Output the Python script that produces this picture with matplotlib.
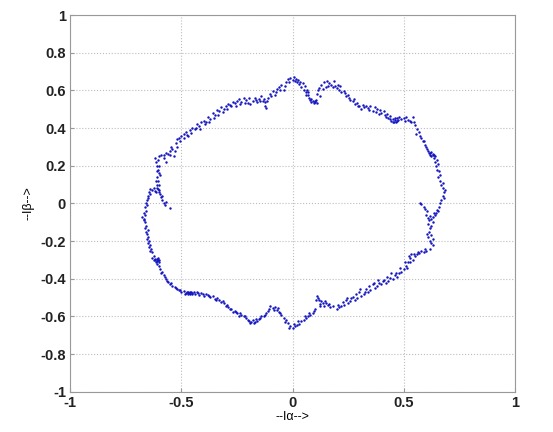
import matplotlib
matplotlib.use('Agg')
import matplotlib.pyplot as plt

# current vector trajectory (I_alpha, I_beta), going round anticlockwise from the top-left
i_alpha = [
    # top, left of peak
    -0.25, -0.24, -0.23, -0.22, -0.21, -0.20, -0.195, -0.18, -0.17, -0.16, -0.15, -0.14, -0.135, -0.125, -0.12,
    -0.11, -0.10, -0.09, -0.08, -0.07, -0.06, -0.05, -0.04, -0.03, -0.02, -0.01, 0.0, 0.005, 0.015, 0.02, 0.025,
    # top right dip and bump
    0.03, 0.04, 0.045, 0.05, 0.055, 0.06, 0.065, 0.07, 0.075, 0.08, 0.085, 0.09, 0.095, 0.10, 0.105, 0.11,
    0.115, 0.12, 0.125, 0.13, 0.14, 0.15, 0.155, 0.165, 0.175, 0.185, 0.19, 0.20, 0.21, 0.215,
    # upper right
    0.22, 0.23, 0.24, 0.25, 0.26, 0.27, 0.28, 0.29, 0.30, 0.31, 0.32, 0.33, 0.34, 0.35, 0.36, 0.37, 0.38, 0.39,
    0.40, 0.41, 0.42, 0.425, 0.43, 0.44, 0.445, 0.45, 0.455, 0.46, 0.465, 0.47, 0.48, 0.49, 0.50, 0.51, 0.52,
    0.53, 0.54, 0.545, 0.55,
    # right side with hook
    0.56, 0.57, 0.575, 0.58, 0.59, 0.595, 0.60, 0.61, 0.615, 0.62, 0.625, 0.63, 0.625, 0.635, 0.64, 0.645, 0.65,
    0.66, 0.655, 0.665, 0.67, 0.675, 0.68, 0.675, 0.67, 0.665, 0.66, 0.65, 0.645, 0.64, 0.63, 0.62, 0.61, 0.60,
    0.605, 0.59, 0.58, 0.575, 0.595, 0.615, 0.61, 0.62, 0.615, 0.625, 0.63, 0.62, 0.63, 0.62, 0.60, 0.59, 0.57,
    0.56, 0.55, 0.54, 0.53, 0.525, 0.52,
    # lower right
    0.51, 0.50, 0.49, 0.48, 0.47, 0.46, 0.45, 0.44, 0.43, 0.42, 0.41, 0.40, 0.39, 0.38, 0.37, 0.36, 0.35, 0.34,
    0.33, 0.32, 0.31, 0.30, 0.29, 0.28, 0.27, 0.26, 0.25, 0.24, 0.23, 0.22, 0.21, 0.20,
    # bottom bump and dip
    0.18, 0.17, 0.16, 0.15, 0.14, 0.13, 0.125, 0.12, 0.115, 0.11, 0.10, 0.09, 0.08, 0.07, 0.06, 0.05, 0.04,
    0.03, 0.02, 0.01, 0.0, -0.01, -0.02, -0.03, -0.04, -0.05, -0.06, -0.07, -0.08, -0.09, -0.10,
    # lower left
    -0.11, -0.12, -0.13, -0.14, -0.15, -0.16, -0.17, -0.18, -0.19, -0.20, -0.21, -0.22, -0.23, -0.24, -0.25,
    -0.26, -0.27, -0.28, -0.29, -0.30, -0.31, -0.32, -0.33, -0.34, -0.35, -0.36, -0.37, -0.38, -0.39, -0.40,
    -0.41, -0.42, -0.43, -0.44, -0.45, -0.455, -0.46, -0.47, -0.48, -0.49, -0.50, -0.51, -0.52, -0.53, -0.54,
    -0.55, -0.56,
    # left side with hook
    -0.57, -0.58, -0.59, -0.595, -0.60, -0.61, -0.62, -0.61, -0.60, -0.615, -0.625, -0.63, -0.635, -0.64, -0.645,
    -0.65, -0.655, -0.65, -0.66, -0.665, -0.67, -0.665, -0.66, -0.665, -0.66, -0.655, -0.65, -0.645, -0.64,
    -0.63, -0.62, -0.61, -0.60, -0.595, -0.59, -0.585, -0.58, -0.575, -0.55, -0.61, -0.605, -0.61, -0.60,
    -0.605, -0.61, -0.615, -0.62, -0.60, -0.59, -0.58, -0.57,
    # upper left
    -0.56, -0.55, -0.545, -0.54, -0.53, -0.525, -0.52, -0.51, -0.50, -0.49, -0.48, -0.47, -0.46, -0.45, -0.44,
    -0.43, -0.42, -0.41, -0.40, -0.39, -0.38, -0.37, -0.36, -0.35, -0.34, -0.33, -0.32, -0.31, -0.30, -0.29,
    -0.28, -0.27, -0.26,
]
i_beta = [
    0.545, 0.555, 0.54, 0.56, 0.548, 0.535, 0.558, 0.545, 0.56, 0.54, 0.555, 0.57, 0.545, 0.515, 0.505,
    0.56, 0.58, 0.595, 0.575, 0.61, 0.62, 0.63, 0.60, 0.645, 0.66, 0.665, 0.655, 0.67, 0.66, 0.645, 0.655,
    0.635, 0.62, 0.64, 0.605, 0.625, 0.59, 0.60, 0.575, 0.56, 0.55, 0.54, 0.545, 0.535, 0.54, 0.55, 0.58,
    0.60, 0.615, 0.57, 0.63, 0.645, 0.62, 0.65, 0.64, 0.63, 0.648, 0.625, 0.615, 0.60, 0.625,
    0.59, 0.595, 0.57, 0.575, 0.55, 0.545, 0.53, 0.535, 0.52, 0.50, 0.51, 0.52, 0.505, 0.515, 0.49, 0.51, 0.50, 0.475,
    0.48, 0.49, 0.46, 0.475, 0.455, 0.465, 0.44, 0.45, 0.435, 0.445, 0.43, 0.455, 0.46, 0.45, 0.455, 0.46, 0.445,
    0.44, 0.46, 0.43, 0.415,
    0.395, 0.38, 0.36, 0.345, 0.33, 0.31, 0.30, 0.28, 0.27, 0.26, 0.275, 0.265, 0.25, 0.24, 0.22, 0.20, 0.18,
    0.17, 0.14, 0.12, 0.10, 0.08, 0.06, 0.04, 0.02, 0.0, -0.02, -0.035, -0.05, -0.06, -0.07, -0.065, -0.075, -0.06,
    -0.04, -0.02, -0.005, 0.0, -0.03, -0.09, -0.11, -0.13, -0.15, -0.17, -0.19, -0.20, -0.22, -0.24, -0.25, -0.26, -0.265,
    -0.27, -0.28, -0.30, -0.29, -0.28, -0.31,
    -0.33, -0.35, -0.365, -0.37, -0.39, -0.38, -0.40, -0.395, -0.41, -0.42, -0.405, -0.43, -0.42, -0.44, -0.45, -0.43, -0.46, -0.47,
    -0.455, -0.48, -0.49, -0.47, -0.50, -0.51, -0.495, -0.52, -0.53, -0.515, -0.54, -0.545, -0.55, -0.56,
    -0.545, -0.55, -0.54, -0.53, -0.545, -0.52, -0.535, -0.51, -0.50, -0.49, -0.56, -0.58, -0.59, -0.60, -0.61, -0.62, -0.625,
    -0.64, -0.645, -0.65, -0.66, -0.65, -0.635, -0.62, -0.61, -0.59, -0.575, -0.565, -0.55, -0.555, -0.545,
    -0.57, -0.58, -0.595, -0.60, -0.615, -0.625, -0.63, -0.62, -0.635, -0.62, -0.61, -0.60, -0.59, -0.595, -0.58,
    -0.57, -0.575, -0.56, -0.55, -0.545, -0.53, -0.525, -0.515, -0.50, -0.505, -0.49, -0.495, -0.485, -0.48, -0.49,
    -0.475, -0.485, -0.47, -0.48, -0.475, -0.47, -0.48, -0.47, -0.475, -0.465, -0.47, -0.46, -0.455, -0.445, -0.44,
    -0.43, -0.415,
    -0.40, -0.38, -0.37, -0.35, -0.33, -0.32, -0.30, -0.295, -0.30, -0.31, -0.28, -0.26, -0.24, -0.22, -0.20,
    -0.18, -0.16, -0.14, -0.12, -0.10, -0.08, -0.06, -0.04, -0.02, 0.0, 0.02, 0.04, 0.06, 0.075,
    0.07, 0.065, 0.08, 0.07, 0.05, 0.035, 0.02, 0.0, -0.01, -0.025, 0.10, 0.12, 0.14, 0.16,
    0.18, 0.20, 0.22, 0.24, 0.25, 0.255, 0.26, 0.27,
    0.265, 0.28, 0.30, 0.29, 0.28, 0.32, 0.34, 0.35, 0.36, 0.37, 0.38, 0.36, 0.39, 0.40, 0.395,
    0.42, 0.41, 0.43, 0.44, 0.435, 0.46, 0.45, 0.48, 0.47, 0.495, 0.49, 0.51, 0.50, 0.52, 0.53,
    0.525, 0.54, 0.535,
]

# second pass of the trajectory (the ring is drawn twice, slightly shifted; clusters where it lingers)
i_alpha_2 = [
    -0.58, -0.57, -0.55, -0.535, -0.52, -0.505, -0.49, -0.475, -0.455, -0.435, -0.415, -0.395, -0.375, -0.355,
    -0.335, -0.315, -0.295, -0.275, -0.255, -0.235, -0.215, -0.19, -0.165, -0.145, -0.13, -0.125, -0.115, -0.095,
    -0.075, -0.055, -0.035, -0.015, 0.01, 0.035,
    0.06, 0.07, 0.085, 0.10, 0.11, 0.135, 0.16, 0.18, 0.205, 0.235, 0.255, 0.275, 0.295, 0.315, 0.345, 0.375,
    0.395, 0.415, 0.44, 0.45, 0.46, 0.47, 0.475, 0.505, 0.535,
    0.555, 0.585, 0.605, 0.62, 0.63, 0.635, 0.64, 0.65, 0.655, 0.665, 0.675, 0.685, 0.68, 0.655, 0.635, 0.625,
    0.63, 0.625, 0.605, 0.61, 0.625, 0.595, 0.58, 0.565, 0.545, 0.535, 0.53, 0.515, 0.505,
    0.485, 0.465, 0.445, 0.425, 0.405, 0.385, 0.365, 0.345, 0.325, 0.305, 0.285, 0.265, 0.245, 0.225, 0.205,
    0.165, 0.145, 0.135, 0.125, 0.105, 0.095, 0.075, 0.055, 0.025, 0.005, -0.015, -0.035, -0.055, -0.065, -0.085,
    -0.105, -0.125, -0.145, -0.165, -0.175, -0.185, -0.195, -0.215, -0.235, -0.255, -0.275, -0.295, -0.315,
    -0.345, -0.375, -0.405, -0.425, -0.445, -0.45, -0.46, -0.465, -0.47, -0.475, -0.485, -0.505, -0.525, -0.545,
    -0.565, -0.575,
    -0.585, -0.60, -0.605, -0.61, -0.62, -0.625, -0.605, -0.63, -0.64, -0.645, -0.65, -0.655, -0.66, -0.665,
    -0.67, -0.675, -0.67, -0.655, -0.65, -0.64, -0.625, -0.615, -0.605, -0.60, -0.585, -0.57, -0.60, -0.615,
    -0.595, -0.61, -0.60, -0.605,
]
i_beta_2 = [
    0.24, 0.22, 0.26, 0.25, 0.30, 0.33, 0.345, 0.365, 0.375, 0.40, 0.395, 0.42, 0.435, 0.455,
    0.47, 0.485, 0.50, 0.515, 0.52, 0.53, 0.535, 0.53, 0.55, 0.545, 0.555, 0.54, 0.545, 0.57,
    0.59, 0.60, 0.625, 0.645, 0.65, 0.645,
    0.575, 0.59, 0.555, 0.545, 0.535, 0.61, 0.625, 0.62, 0.63, 0.585, 0.56, 0.555, 0.515, 0.525, 0.495, 0.485,
    0.495, 0.47, 0.45, 0.43, 0.455, 0.44, 0.445, 0.44, 0.43,
    0.37, 0.33, 0.29, 0.27, 0.255, 0.26, 0.25, 0.23, 0.21, 0.15, 0.11, 0.07, 0.03, -0.04, -0.05, -0.08,
    -0.10, -0.12, -0.16, -0.18, -0.21, -0.24, -0.25, -0.26, -0.27, -0.27, -0.31, -0.34, -0.31,
    -0.345, -0.37, -0.37, -0.39, -0.41, -0.405, -0.42, -0.44, -0.47, -0.455, -0.48, -0.50, -0.50, -0.525, -0.54,
    -0.535, -0.52, -0.53, -0.545, -0.515, -0.57, -0.58, -0.60, -0.625, -0.64, -0.66, -0.63, -0.58, -0.555, -0.565,
    -0.56, -0.59, -0.61, -0.615, -0.635, -0.63, -0.625, -0.60, -0.58, -0.575, -0.56, -0.54, -0.52,
    -0.51, -0.49, -0.48, -0.475, -0.47, -0.48, -0.47, -0.475, -0.48, -0.47, -0.48, -0.46, -0.45, -0.42,
    -0.41, -0.39,
    -0.365, -0.31, -0.29, -0.305, -0.295, -0.30, -0.30, -0.29, -0.25, -0.23, -0.21, -0.19, -0.15, -0.13,
    -0.09, -0.07, -0.05, -0.01, 0.03, 0.05, 0.08, 0.06, 0.075, 0.06, 0.04, 0.01, 0.10, 0.12,
    0.15, 0.17, 0.20, 0.23,
]

ticks_x = [-1, -0.5, 0, 0.5, 1]
ticks_y = [-1, -0.8, -0.6, -0.4, -0.2, 0, 0.2, 0.4, 0.6, 0.8, 1]

plt.rcParams['font.family'] = ['Liberation Sans', 'DejaVu Sans']

fig = plt.figure(figsize=(5.53, 4.32), dpi=100)
ax = fig.add_axes([0.127, 0.093, 0.804, 0.872])
dot = dict(ls='none', marker='.', color='#1414c0', markersize=3.5, markeredgewidth=0)
ax.plot(i_alpha, i_beta, **dot)
ax.plot(i_alpha_2, i_beta_2, **dot)

ax.set_xlim(-1, 1); ax.set_ylim(-1, 1)
ax.set_xticks(ticks_x); ax.set_yticks(ticks_y)
ax.set_xticklabels(['-1', '-0.5', '0', '0.5', '1'], fontsize=10.5, fontweight='bold', color='#222222')
ax.set_yticklabels(['-1', '-0.8', '-0.6', '-0.4', '-0.2', '0', '0.2', '0.4', '0.6', '0.8', '1'],
                   fontsize=10.5, fontweight='bold', color='#222222')
ax.tick_params(direction='in', length=3, color='#999999', pad=3)
ax.grid(True, ls=':', color='#bdbdbd', lw=0.8)
for s in ax.spines.values():
    s.set_color('#999999'); s.set_linewidth(0.8)
ax.set_xlabel('--I\u03b1-->', fontsize=9, labelpad=1)
ax.set_ylabel('--I\u03b2-->', fontsize=9, labelpad=4)

fig.savefig('out.png', dpi=100)
